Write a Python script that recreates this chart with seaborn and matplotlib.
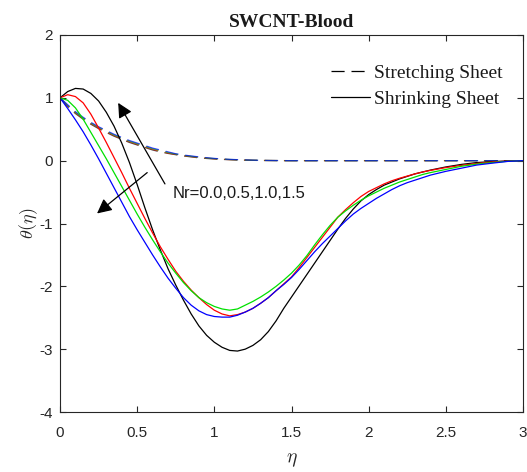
import numpy as np
import pandas as pd
import seaborn as sns
import matplotlib
matplotlib.use("Agg")
import matplotlib.pyplot as plt
from matplotlib.lines import Line2D

# ---- data ----
eta = [0.0, 0.05, 0.1, 0.15, 0.2, 0.25, 0.3, 0.35, 0.4, 0.45, 0.5, 0.55, 0.6, 0.65,
       0.7, 0.75, 0.8, 0.85, 0.9, 0.95, 1.0, 1.05, 1.1, 1.15, 1.2, 1.25, 1.3, 1.35,
       1.4, 1.45, 1.5, 1.55, 1.6, 1.65, 1.7, 1.75, 1.8, 1.85, 1.9, 1.95, 2.0, 2.05,
       2.1, 2.15, 2.2, 2.25, 2.3, 2.35, 2.4, 2.5, 2.6, 2.7, 2.8, 2.9, 3.0]

nr_labels = ["0.0", "0.5", "1.0", "1.5"]
line_colors = ["#000000", "#ff0000", "#00e000", "#0000ff"]

# Shrinking sheet (solid)
shrink_nr00 = [1.0, 1.10, 1.15, 1.14, 1.07, 0.95, 0.77, 0.55, 0.28, -0.03, -0.38, -0.75, -1.10, -1.42,
               -1.72, -1.98, -2.22, -2.44, -2.63, -2.78, -2.89, -2.97, -3.02, -3.03, -3.00, -2.94, -2.85, -2.72,
               -2.55, -2.35, -2.17, -1.99, -1.81, -1.63, -1.45, -1.27, -1.09, -0.92, -0.77, -0.64, -0.54, -0.46,
               -0.39, -0.34, -0.29, -0.25, -0.21, -0.18, -0.15, -0.10, -0.06, -0.03, -0.015, -0.005, 0.0]
shrink_nr05 = [1.0, 1.05, 1.02, 0.92, 0.74, 0.52, 0.29, 0.05, -0.19, -0.44, -0.68, -0.92, -1.15, -1.37,
               -1.57, -1.76, -1.92, -2.06, -2.18, -2.29, -2.38, -2.44, -2.47, -2.45, -2.41, -2.35, -2.27, -2.18,
               -2.07, -1.96, -1.85, -1.70, -1.54, -1.38, -1.22, -1.06, -0.90, -0.78, -0.67, -0.57, -0.49, -0.43,
               -0.37, -0.32, -0.28, -0.245, -0.21, -0.18, -0.155, -0.11, -0.075, -0.045, -0.02, -0.008, 0.0]
shrink_nr10 = [1.0, 0.96, 0.84, 0.66, 0.45, 0.24, 0.03, -0.19, -0.41, -0.63, -0.85, -1.06, -1.26, -1.45,
               -1.63, -1.79, -1.94, -2.07, -2.18, -2.26, -2.32, -2.36, -2.38, -2.36, -2.30, -2.24, -2.17, -2.09,
               -2.00, -1.90, -1.79, -1.66, -1.51, -1.34, -1.18, -1.03, -0.90, -0.80, -0.71, -0.63, -0.56, -0.50,
               -0.44, -0.39, -0.34, -0.30, -0.26, -0.22, -0.19, -0.14, -0.09, -0.055, -0.03, -0.01, 0.0]
shrink_nr15 = [1.0, 0.83, 0.65, 0.46, 0.25, 0.03, -0.20, -0.43, -0.66, -0.89, -1.10, -1.30, -1.50, -1.69,
               -1.87, -2.03, -2.18, -2.30, -2.39, -2.45, -2.48, -2.49, -2.49, -2.46, -2.41, -2.35, -2.27, -2.18,
               -2.07, -1.97, -1.86, -1.73, -1.59, -1.45, -1.32, -1.20, -1.08, -0.96, -0.85, -0.76, -0.68, -0.60,
               -0.53, -0.46, -0.40, -0.35, -0.31, -0.27, -0.23, -0.17, -0.12, -0.07, -0.04, -0.012, 0.0]

# Stretching sheet (dashed)
stretch_nr00 = [1.0, 0.86, 0.75, 0.66, 0.58, 0.51, 0.45, 0.39, 0.34, 0.29, 0.25, 0.21, 0.17, 0.14,
                0.115, 0.095, 0.075, 0.06, 0.045, 0.035, 0.027, 0.02, 0.015, 0.011, 0.008, 0.005, 0.003, 0.002,
                0.001, 0.0, 0.0, 0.0, 0.0, 0.0, 0.0, 0.0, 0.0, 0.0, 0.0, 0.0, 0.0, 0.0,
                0.0, 0.0, 0.0, 0.0, 0.0, 0.0, 0.0, 0.0, 0.0, 0.0, 0.0, 0.0, 0.0]
stretch_nr05 = [1.0, 0.87, 0.76, 0.67, 0.59, 0.52, 0.46, 0.40, 0.35, 0.30, 0.26, 0.22, 0.18, 0.15,
                0.12, 0.10, 0.08, 0.065, 0.05, 0.04, 0.03, 0.023, 0.017, 0.012, 0.009, 0.006, 0.004, 0.003,
                0.002, 0.001, 0.0, 0.0, 0.0, 0.0, 0.0, 0.0, 0.0, 0.0, 0.0, 0.0, 0.0, 0.0,
                0.0, 0.0, 0.0, 0.0, 0.0, 0.0, 0.0, 0.0, 0.0, 0.0, 0.0, 0.0, 0.0]
stretch_nr10 = [1.0, 0.88, 0.77, 0.68, 0.60, 0.53, 0.47, 0.41, 0.36, 0.31, 0.27, 0.23, 0.19, 0.16,
                0.13, 0.105, 0.085, 0.07, 0.055, 0.043, 0.033, 0.025, 0.019, 0.014, 0.01, 0.007, 0.005, 0.003,
                0.002, 0.001, 0.0, 0.0, 0.0, 0.0, 0.0, 0.0, 0.0, 0.0, 0.0, 0.0, 0.0, 0.0,
                0.0, 0.0, 0.0, 0.0, 0.0, 0.0, 0.0, 0.0, 0.0, 0.0, 0.0, 0.0, 0.0]
stretch_nr15 = [1.0, 0.89, 0.78, 0.69, 0.61, 0.54, 0.48, 0.42, 0.37, 0.32, 0.28, 0.24, 0.20, 0.17,
                0.14, 0.11, 0.09, 0.075, 0.06, 0.047, 0.036, 0.027, 0.021, 0.016, 0.012, 0.008, 0.005, 0.003,
                0.002, 0.001, 0.0, 0.0, 0.0, 0.0, 0.0, 0.0, 0.0, 0.0, 0.0, 0.0, 0.0, 0.0,
                0.0, 0.0, 0.0, 0.0, 0.0, 0.0, 0.0, 0.0, 0.0, 0.0, 0.0, 0.0, 0.0]

x_ticks = [0, 0.5, 1, 1.5, 2, 2.5, 3]
x_tick_labels = ["0", "0.5", "1", "1.5", "2", "2.5", "3"]
y_ticks = [-4, -3, -2, -1, 0, 1, 2]
y_tick_labels = ["-4", "-3", "-2", "-1", "0", "1", "2"]

title_text = "SWCNT-Blood"
legend_labels = ["Stretching Sheet", "Shrinking Sheet"]
annot_text = "Nr=0.0,0.5,1.0,1.5"

# ---- figure ----
sns.set_style("ticks")
plt.rcParams["font.family"] = ["Liberation Sans", "DejaVu Sans"]
plt.rcParams["mathtext.fontset"] = "cm"

W, H = 527, 472
fig = plt.figure(figsize=(W / 100, H / 100), dpi=100)
ax = fig.add_axes([60 / W, 1 - 412 / H, 463 / W, 377 / H])

dash_style = (0, (10.5, 5.5))
shrink = [shrink_nr00, shrink_nr05, shrink_nr10, shrink_nr15]
stretch = [stretch_nr00, stretch_nr05, stretch_nr10, stretch_nr15]

for nr, col, ys in zip(nr_labels, line_colors, stretch):
    df = pd.DataFrame({"eta": eta, "theta": ys})
    sns.lineplot(data=df, x="eta", y="theta", ax=ax, color=col, lw=0.9,
                 legend=False, estimator=None, sort=False,
                 linestyle=dash_style, alpha=0.7)
for nr, col, ys in zip(nr_labels, line_colors, shrink):
    df = pd.DataFrame({"eta": eta, "theta": ys})
    sns.lineplot(data=df, x="eta", y="theta", ax=ax, color=col, lw=0.9,
                 legend=False, estimator=None, sort=False)

ax.set_xlim(0, 3)
ax.set_ylim(-4, 2)
ax.set_xticks(x_ticks)
ax.set_xticklabels(x_tick_labels)
ax.set_yticks(y_ticks)
ax.set_yticklabels(y_tick_labels)
ax.tick_params(direction="in", top=True, right=True, length=4, width=0.8,
               labelsize=11, colors="#262626")
ax.tick_params(axis="y", pad=5)
ax.tick_params(axis="x", pad=10)
for s in ax.spines.values():
    s.set_visible(True)
    s.set_color("#262626")
    s.set_linewidth(0.8)

ax.set_xlabel(r"$\eta$", fontsize=14, color="#262626", labelpad=8)
ax.set_ylabel(r"$\theta(\eta)$", fontsize=13, color="#262626", labelpad=0)
ax.set_title(title_text, fontsize=14, fontweight="bold", family="Liberation Serif",
             color="#1a1a1a", pad=6)

handles = [Line2D([], [], color="k", lw=0.9, linestyle=dash_style),
           Line2D([], [], color="k", lw=0.9)]
leg = ax.legend(handles, legend_labels, loc="upper left", bbox_to_anchor=(0.585, 0.923),
                frameon=False, prop={"family": "Liberation Serif", "size": 14},
                handlelength=2.0, handletextpad=0.2, labelspacing=0.46, borderpad=0,
                borderaxespad=0)
for t in leg.get_texts():
    t.set_color("#1a1a1a")

arrow = dict(arrowstyle="-|>", color="k", lw=0.9, mutation_scale=22,
             shrinkA=0, shrinkB=0)
ax.annotate("", xy=(0.377, 0.92), xytext=(0.68, -0.37), arrowprops=arrow)
ax.annotate("", xy=(0.24, -0.84), xytext=(0.565, -0.19), arrowprops=arrow)
ax.text(0.727, -0.52, annot_text, fontsize=12, color="#1a1a1a", va="center", ha="left")

fig.savefig("out.png", dpi=100)
